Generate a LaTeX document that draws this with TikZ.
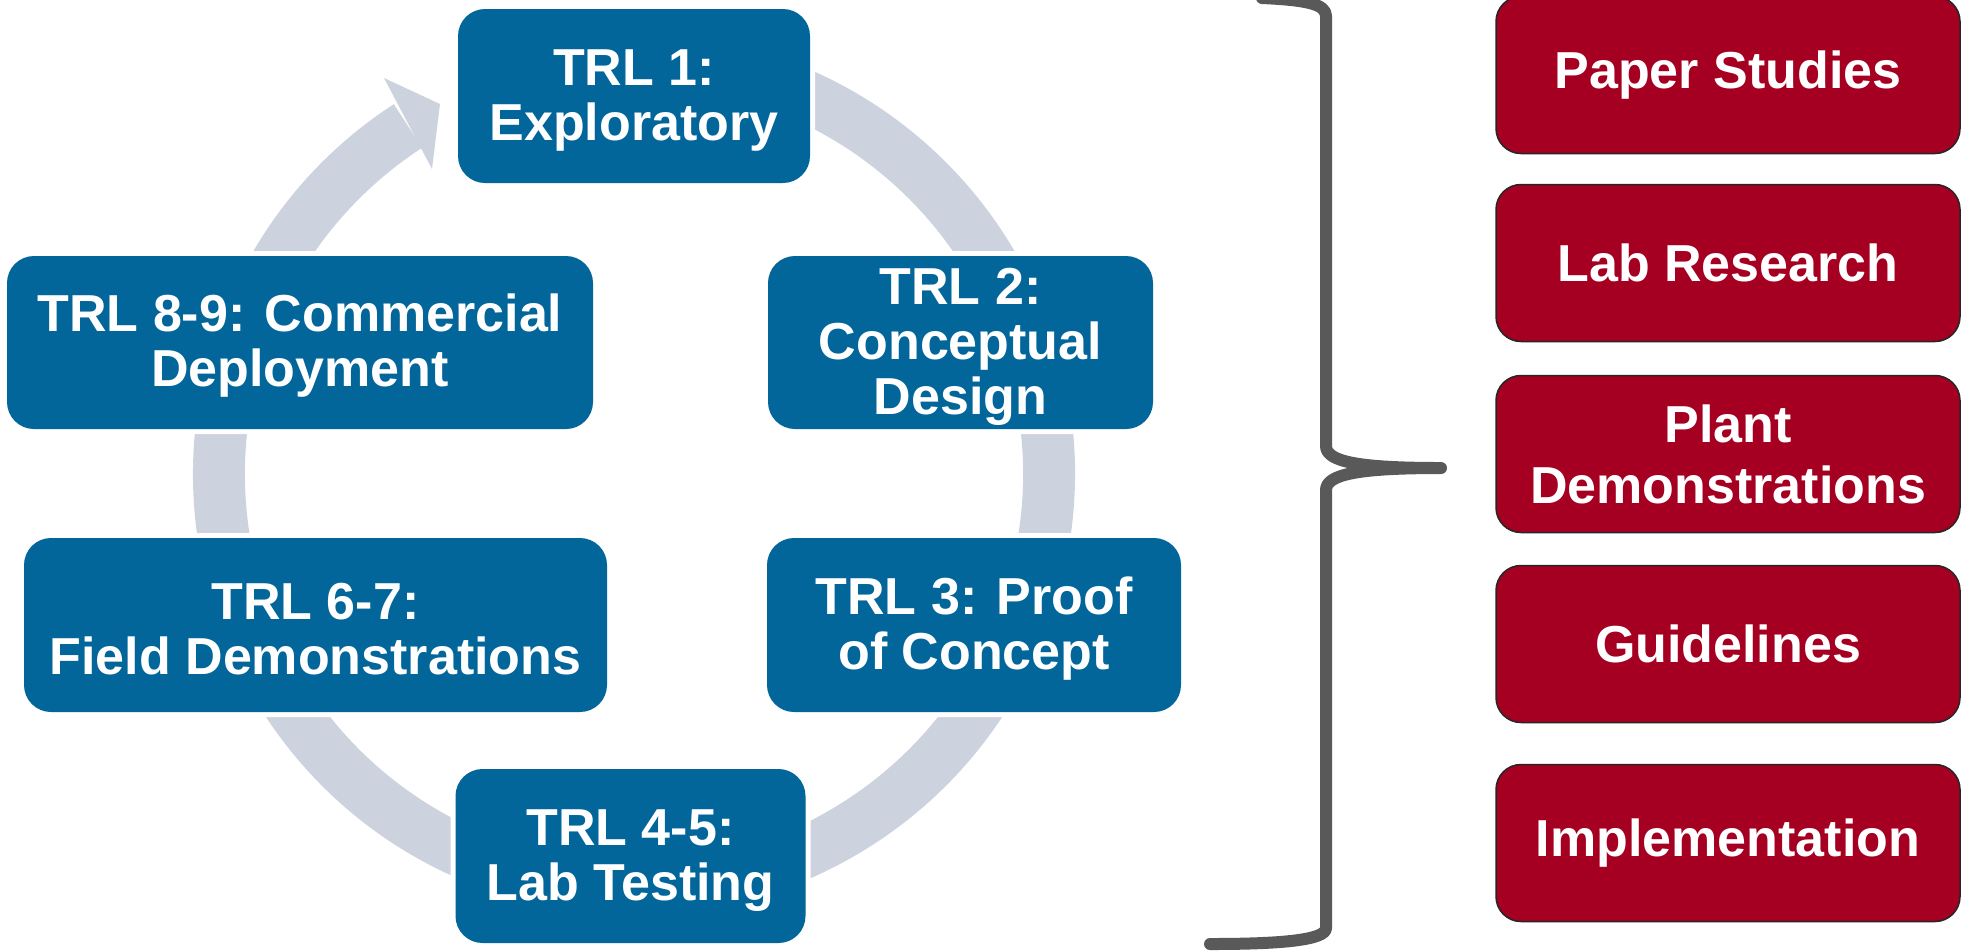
\documentclass[tikz,border=0pt]{standalone}
\usepackage{fontspec}
\setmainfont{Liberation Sans}
\definecolor{trlblue}{HTML}{02669A}
\definecolor{ringgray}{HTML}{CCD3DE}
\definecolor{outred}{HTML}{A50021}
\definecolor{bracegray}{HTML}{595959}
% invisible strut that lowers the first line of a stage label a little
\newcommand{\stagestrut}{\rule{0pt}{22pt}}
\begin{document}
\begin{tikzpicture}[x=0.5pt,y=0.5pt,
  trl/.style={rectangle, rounded corners=13.5pt, fill=trlblue, text=white,
    font=\fontsize{26}{27.5}\selectfont\bfseries, align=center, inner sep=0pt,
    preaction={draw=white, line width=5pt}},
  outcome/.style={rectangle, rounded corners=12.5pt, fill=outred, draw=black!85,
    line width=0.75pt, text=white, font=\fontsize{26}{30.5}\selectfont\bfseries,
    align=center, minimum width=232pt, minimum height=78.5pt, inner sep=0pt},
  ring/.style={fill=ringgray},
  bracket/.style={draw=bracegray, line width=6pt, line cap=round, line join=round}]

\useasboundingbox (0,0) rectangle (1965,-950);

% cycle ring behind the stages, ending in one arrowhead towards TRL 1
\coordinate (c) at (634,-474);
\fill[ring] ([shift={(123:441)}]c) arc[start angle=123, end angle=430, radius=441]
  -- ([shift={(430:389)}]c) arc[start angle=430, end angle=123, radius=389] -- cycle;
\fill[ring] (384,-78) -- (440,-104) -- (432,-169) -- cycle;

% TRL stages
\node[trl, minimum width=176pt, minimum height=87pt] (t1) at (634,-96) {\stagestrut TRL 1:\\Exploratory};
\node[trl, minimum width=192.5pt, minimum height=86.5pt] (t2) at (960.5,-342.5) {\stagestrut TRL 2:\\Conceptual\\Design};
\node[trl, minimum width=207pt, minimum height=87pt] (t3) at (974,-625) {\stagestrut TRL 3: Proof\\of Concept};
\node[trl, minimum width=175pt, minimum height=87pt] (t45) at (630.5,-856) {\stagestrut TRL 4-5:\\Lab Testing};
\node[trl, minimum width=291.5pt, minimum height=87pt] (t67) at (315.5,-625) {\stagestrut TRL 6-7:\\Field Demonstrations};
\node[trl, minimum width=293pt, minimum height=86.5pt] (t89) at (300,-342.5) {\stagestrut TRL 8-9: Commercial\\Deployment};

% grouping brace
\draw[bracket] (1262,2) .. controls (1306,0) and (1326,-4) .. (1326,-16)
  -- (1326,-446) .. controls (1326,-462) and (1360,-468) .. (1441,-468)
  .. controls (1360,-468) and (1326,-474) .. (1326,-490)
  -- (1326,-928) .. controls (1326,-940) and (1282,-944) .. (1210,-944);

% outcomes
\node[outcome] (o1) at (1728,-75) {Paper Studies};
\node[outcome] (o2) at (1728,-263) {Lab Research};
\node[outcome] (o3) at (1728,-454) {Plant\\Demonstrations};
\node[outcome] (o4) at (1728,-644) {Guidelines};
\node[outcome] (o5) at (1728,-843) {Implementation};
\end{tikzpicture}
\end{document}
